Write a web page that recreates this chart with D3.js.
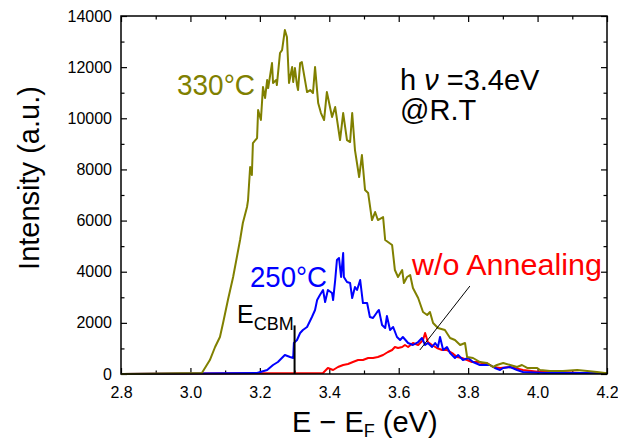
<!DOCTYPE html>
<html>
<head>
<meta charset="utf-8">
<script src="https://cdn.jsdelivr.net/npm/d3@7"></script>
<style>
  body { margin: 0; background: #fff; }
  svg { display: block; font-family: "Liberation Sans", Arial, sans-serif; }
</style>
</head>
<body>
<div id="chart"></div>
<script>
// spectra: [E - EF (eV), intensity (a.u.)]
const anneal330 = [
  [2.8, 0], [3.033, 40], [3.056, 547], [3.071, 1056], [3.085, 1447], [3.094, 1994],
  [3.108, 2893], [3.123, 3793], [3.143, 5239], [3.151, 5904], [3.163, 6530], [3.166, 6803],
  [3.172, 8094], [3.177, 7781], [3.180, 9032], [3.192, 9228], [3.195, 10322], [3.203, 9931],
  [3.209, 11222], [3.215, 10792], [3.221, 11495], [3.224, 11183], [3.235, 12160], [3.238, 11378],
  [3.247, 11495], [3.249, 11300], [3.258, 12551], [3.264, 12668], [3.272, 13450], [3.278, 13177],
  [3.284, 11378], [3.293, 12004], [3.296, 11417], [3.301, 11965], [3.307, 11300], [3.310, 11104],
  [3.316, 12160], [3.321, 12199], [3.336, 11026], [3.345, 11104], [3.353, 10987], [3.359, 12004],
  [3.368, 10596], [3.376, 10205], [3.385, 9931], [3.393, 11026], [3.408, 10049], [3.417, 10440],
  [3.431, 9149], [3.440, 10205], [3.451, 9149], [3.460, 9071], [3.466, 10205], [3.474, 8758],
  [3.486, 7703], [3.494, 8563], [3.503, 7194], [3.512, 7077], [3.523, 6021], [3.532, 6334],
  [3.540, 6021], [3.555, 6139], [3.561, 5239], [3.581, 5044], [3.589, 4066], [3.598, 3793],
  [3.610, 4066], [3.615, 3558], [3.624, 3793], [3.633, 3871], [3.641, 3363], [3.656, 2972],
  [3.670, 2424], [3.682, 2307], [3.690, 2424], [3.699, 1994], [3.713, 1799], [3.733, 1720],
  [3.748, 1408], [3.762, 1329], [3.777, 1134], [3.791, 1212], [3.797, 665], [3.814, 626],
  [3.834, 469], [3.854, 430], [3.872, 274], [3.883, 352], [3.901, 430], [3.921, 352],
  [3.941, 274], [3.955, 352], [3.970, 235], [3.999, 235], [4.007, 156], [4.036, 117],
  [4.073, 117], [4.114, 156], [4.143, 117], [4.171, 78], [4.194, 39], [4.2, 39]
];
const anneal250 = [
  [2.8, 0], [3.192, 39], [3.221, 156], [3.238, 352], [3.252, 469], [3.272, 743],
  [3.287, 665], [3.296, 626], [3.298, 1212], [3.307, 1329], [3.316, 1603], [3.324, 1720],
  [3.336, 1838], [3.350, 2229], [3.359, 2502], [3.365, 2893], [3.373, 3089], [3.382, 3284],
  [3.388, 2815], [3.396, 3284], [3.408, 3167], [3.411, 2893], [3.417, 3675], [3.422, 4457],
  [3.428, 4536], [3.434, 3793], [3.440, 4731], [3.442, 3793], [3.451, 3597], [3.460, 3558],
  [3.466, 2972], [3.474, 3402], [3.480, 3284], [3.489, 3675], [3.497, 2776], [3.509, 2776],
  [3.517, 2229], [3.526, 2190], [3.538, 2424], [3.543, 2502], [3.552, 1916], [3.561, 1799],
  [3.566, 2268], [3.575, 1720], [3.584, 1838], [3.595, 1447], [3.604, 1329], [3.612, 1447],
  [3.627, 1212], [3.641, 1134], [3.656, 1251], [3.667, 1408], [3.676, 1134], [3.684, 1212],
  [3.696, 1056], [3.705, 1212], [3.713, 1056], [3.719, 1447], [3.728, 938], [3.739, 1056],
  [3.748, 821], [3.762, 626], [3.771, 743], [3.785, 547], [3.800, 626], [3.814, 469],
  [3.834, 352], [3.863, 352], [3.877, 235], [3.892, 156], [3.901, 235], [3.921, 274],
  [3.941, 156], [3.958, 78], [4.021, 39], [4.2, 39]
];
const noAnneal = [
  [2.8, 0], [3.382, 39], [3.396, 235], [3.411, 156], [3.425, 274], [3.440, 352],
  [3.454, 391], [3.468, 469], [3.483, 547], [3.497, 547], [3.512, 626], [3.526, 626],
  [3.540, 665], [3.555, 743], [3.569, 860], [3.581, 938], [3.589, 1056], [3.598, 1017],
  [3.610, 1056], [3.618, 1134], [3.627, 1056], [3.641, 1212], [3.656, 1134], [3.670, 1329],
  [3.676, 1603], [3.684, 1251], [3.696, 1134], [3.710, 1017], [3.725, 938], [3.739, 938],
  [3.754, 821], [3.768, 665], [3.782, 626], [3.797, 547], [3.811, 469], [3.826, 469],
  [3.840, 430], [3.854, 430], [3.872, 274], [3.892, 235], [3.921, 274], [3.958, 156],
  [4.007, 78], [4.065, 78], [4.122, 39], [4.2, 39]
];

const xMajor = [2.8, 3.0, 3.2, 3.4, 3.6, 3.8, 4.0, 4.2];
const xMinor = [2.9, 3.1, 3.3, 3.5, 3.7, 3.9, 4.1];
const yMajor = [0, 2000, 4000, 6000, 8000, 10000, 12000, 14000];
const yMinor = [1000, 3000, 5000, 7000, 9000, 11000, 13000];

const eCBM = 3.3, eCBMTop = 1900;
const pointer = [[3.805, 3440], [3.661, 940]];

const W = 618, H = 442;
const L = 121, T = 16, R = 607, B = 374;

const svg = d3.select("#chart").append("svg").attr("width", W).attr("height", H);

const x = d3.scaleLinear().domain([2.8, 4.2]).range([L, R]);
const y = d3.scaleLinear().domain([0, 14000]).range([B, T]);

function styleAxis(g) {
  g.select(".domain").remove();
  g.selectAll("line").attr("stroke", "#000").attr("stroke-width", 1.2);
  g.selectAll("text").attr("fill", "#000").attr("font-size", 16);
}

// bottom / top
svg.append("g").attr("transform", `translate(0,${B})`)
  .call(d3.axisBottom(x).tickValues(xMajor).tickFormat(d3.format(".1f")).tickSize(-6).tickPadding(13))
  .call(styleAxis);
svg.append("g").attr("transform", `translate(0,${B})`)
  .call(d3.axisBottom(x).tickValues(xMinor).tickFormat("").tickSize(-3.5))
  .call(styleAxis);
svg.append("g").attr("transform", `translate(0,${T})`)
  .call(d3.axisTop(x).tickValues(xMajor).tickFormat("").tickSize(-6))
  .call(styleAxis);
svg.append("g").attr("transform", `translate(0,${T})`)
  .call(d3.axisTop(x).tickValues(xMinor).tickFormat("").tickSize(-3.5))
  .call(styleAxis);

// left / right
svg.append("g").attr("transform", `translate(${L},0)`)
  .call(d3.axisLeft(y).tickValues(yMajor).tickFormat(d3.format("d")).tickSize(-6).tickPadding(9))
  .call(styleAxis);
svg.append("g").attr("transform", `translate(${L},0)`)
  .call(d3.axisLeft(y).tickValues(yMinor).tickFormat("").tickSize(-3.5))
  .call(styleAxis);
svg.append("g").attr("transform", `translate(${R},0)`)
  .call(d3.axisRight(y).tickValues(yMajor).tickFormat("").tickSize(-6))
  .call(styleAxis);
svg.append("g").attr("transform", `translate(${R},0)`)
  .call(d3.axisRight(y).tickValues(yMinor).tickFormat("").tickSize(-3.5))
  .call(styleAxis);

const line = d3.line().x(d => x(d[0])).y(d => y(d[1]));

const series = [
  { data: noAnneal, color: "#ff0000" },
  { data: anneal250, color: "#0000ff" },
  { data: anneal330, color: "#808000" }
];
series.forEach(s => {
  svg.append("path").datum(s.data)
    .attr("fill", "none")
    .attr("stroke", s.color)
    .attr("stroke-width", 2)
    .attr("stroke-linejoin", "round")
    .attr("d", line);
});

// E_CBM marker
svg.append("line")
  .attr("x1", x(eCBM)).attr("x2", x(eCBM))
  .attr("y1", y(0)).attr("y2", y(eCBMTop))
  .attr("stroke", "#000").attr("stroke-width", 2);

// pointer to the w/o annealing curve
svg.append("line")
  .attr("x1", x(pointer[0][0])).attr("y1", y(pointer[0][1]))
  .attr("x2", x(pointer[1][0])).attr("y2", y(pointer[1][1]))
  .attr("stroke", "#000").attr("stroke-width", 1);

// frame
svg.append("rect")
  .attr("x", L).attr("y", T).attr("width", R - L).attr("height", B - T)
  .attr("fill", "none").attr("stroke", "#000").attr("stroke-width", 1.5);

// labels
svg.append("text").attr("x", 177).attr("y", 95)
  .attr("font-size", 29).attr("fill", "#808000")
  .attr("textLength", 78).attr("lengthAdjust", "spacingAndGlyphs")
  .text("330°C");
svg.append("text").attr("x", 250).attr("y", 287)
  .attr("font-size", 29).attr("fill", "#0000ff")
  .attr("textLength", 77).attr("lengthAdjust", "spacingAndGlyphs")
  .text("250°C");
svg.append("text").attr("x", 412).attr("y", 275)
  .attr("font-size", 29).attr("fill", "#ff0000")
  .attr("textLength", 190).attr("lengthAdjust", "spacingAndGlyphs")
  .text("w/o Annealing");

const hv = svg.append("text").attr("x", 400).attr("y", 90)
  .attr("font-size", 29).attr("fill", "#000");
hv.append("tspan").text("h ");
hv.append("tspan").attr("font-style", "italic").text("ν");
hv.append("tspan").text(" =3.4eV");
svg.append("text").attr("x", 400).attr("y", 120)
  .attr("font-size", 29).attr("fill", "#000")
  .text("@R.T");

const ecbm = svg.append("text").attr("x", 237).attr("y", 323)
  .attr("font-size", 25).attr("fill", "#000");
ecbm.append("tspan").text("E");
ecbm.append("tspan").attr("font-size", 18).attr("dy", 7).text("CBM");

// axis titles
svg.append("text")
  .attr("transform", "translate(39,178) rotate(-90)")
  .attr("text-anchor", "middle")
  .attr("font-size", 29).attr("fill", "#000")
  .text("Intensity (a.u.)");

const xt = svg.append("text").attr("x", 292).attr("y", 432)
  .attr("font-size", 29).attr("fill", "#000");
xt.append("tspan").text("E − E");
xt.append("tspan").attr("font-size", 18).attr("dy", 5).text("F");
xt.append("tspan").attr("dy", -5).text(" (eV)");
</script>
</body>
</html>
